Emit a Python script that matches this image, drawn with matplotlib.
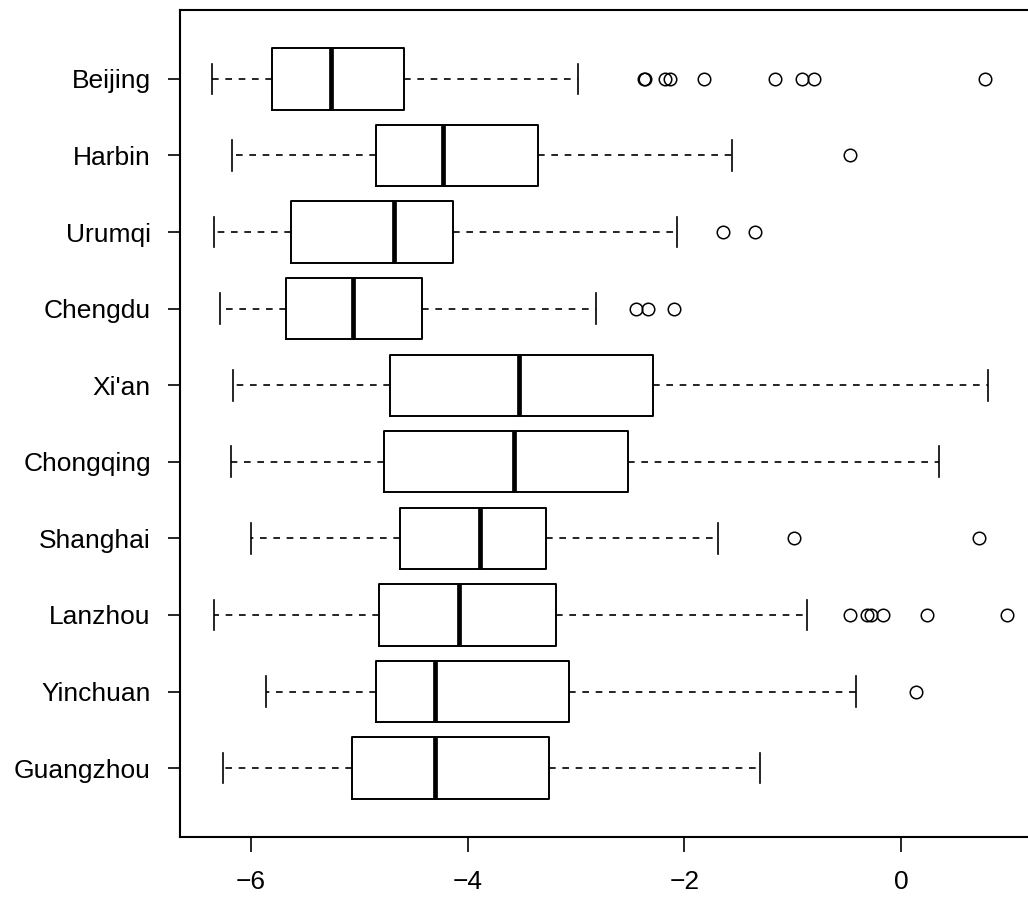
#!/usr/bin/env python

import matplotlib
matplotlib.use('Agg')
import matplotlib.pyplot as plt

plt.rcParams['font.family'] = ['Liberation Sans', 'DejaVu Sans']

# top to bottom as shown
cities = ['Beijing', 'Harbin', 'Urumqi', 'Chengdu', "Xi'an",
          'Chongqing', 'Shanghai', 'Lanzhou', 'Yinchuan', 'Guangzhou']
whislo = [-6.36, -6.18, -6.34, -6.29, -6.17, -6.19, -6.00, -6.34, -5.86, -6.26]
q1 = [-5.81, -4.85, -5.63, -5.68, -4.72, -4.77, -4.63, -4.82, -4.85, -5.07]
med = [-5.26, -4.23, -4.68, -5.06, -3.53, -3.57, -3.89, -4.08, -4.30, -4.30]
q3 = [-4.59, -3.35, -4.14, -4.42, -2.29, -2.52, -3.28, -3.19, -3.07, -3.25]
whishi = [-2.98, -1.56, -2.07, -2.82, 0.80, 0.35, -1.69, -0.87, -0.42, -1.30]
outliers = [
    [-2.37, -2.36, -2.18, -2.13, -1.82, -1.16, -0.91, -0.80, 0.78],
    [-0.47],
    [-1.64, -1.35],
    [-2.45, -2.34, -2.10],
    [],
    [],
    [-0.99, 0.72],
    [-0.47, -0.31, -0.28, -0.17, 0.24, 0.98],
    [0.14],
    [],
]
xticks = [-6, -4, -2, 0]


def make_plot():
    fig = plt.figure(figsize=(10.28, 8.99), dpi=100)
    # right edge of the frame falls just outside the picture
    ax = fig.add_axes([180 / 1028, 1 - 837 / 899, 859 / 1028, 827 / 899])

    n = len(cities)
    stats = []
    for i in range(n):
        stats.append({'whislo': whislo[i], 'q1': q1[i], 'med': med[i],
                      'q3': q3[i], 'whishi': whishi[i],
                      'fliers': outliers[i], 'label': cities[i]})
    positions = list(range(n, 0, -1))

    ax.bxp(stats, positions=positions, vert=False, widths=0.8,
           showfliers=True,
           boxprops=dict(color='black', linewidth=1.4),
           medianprops=dict(color='black', linewidth=3.4, solid_capstyle='butt'),
           whiskerprops=dict(color='black', linewidth=1.2, linestyle=(0, (4, 4))),
           capprops=dict(color='black', linewidth=1.2),
           capwidths=0.4,
           flierprops=dict(marker='o', markerfacecolor='none',
                           markeredgecolor='black', markersize=9,
                           markeredgewidth=1.1, linestyle='none'))

    ax.set_xlim(-6.657, 1.274)
    ax.set_ylim(0.1, n + 0.9)
    ax.set_xticks(xticks)
    ax.set_xticklabels([str(t).replace('-', '\u2212') for t in xticks])
    ax.set_yticks(positions)
    ax.set_yticklabels(cities)
    ax.tick_params(axis='both', direction='out', width=1.2,
                   labelsize=19, colors='black')
    ax.tick_params(axis='x', length=11, pad=13)
    ax.tick_params(axis='y', length=9, pad=12)
    for sp in ax.spines.values():
        sp.set_linewidth(1.5)

    fig.savefig('out.png', dpi=100)


if __name__ == "__main__":
    make_plot()
